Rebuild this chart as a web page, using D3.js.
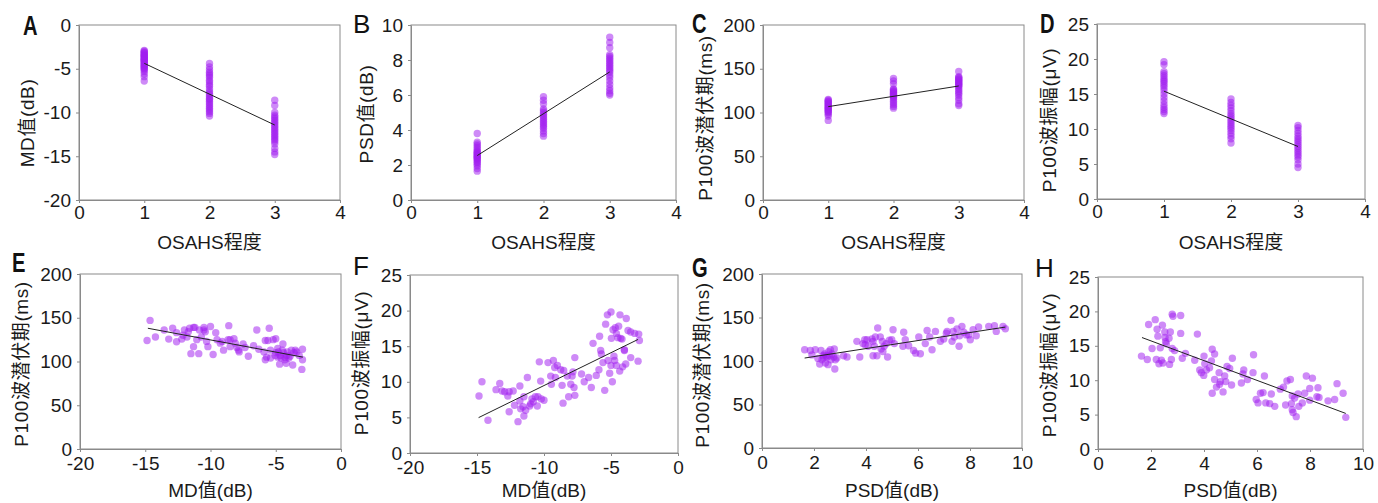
<!DOCTYPE html>
<html><head><meta charset="utf-8">
<script src="https://cdn.jsdelivr.net/npm/d3@7"></script>
<style>body{margin:0;background:#fff}svg{display:block}</style>
</head><body>
<svg id="chart" width="1378" height="503"></svg>
<script>
// ---------- DATA ----------
const grades = [1, 2, 3];
const gradeTicks = [0, 1, 2, 3, 4];

// A: MD by OSAHS grade
const mdG1 = [-2.9,-3.0,-3.1,-3.2,-3.3,-3.4,-3.5,-3.5,-3.6,-3.7,-3.8,-3.9,-4.0,-4.0,-4.1,-4.2,-4.3,-4.4,-4.5,-4.6,-4.7,-4.8,-4.9,-5.0,-5.1,-5.3,-5.6,-5.9,-6.4];
const mdG2 = [-4.4,-4.8,-5.1,-5.4,-5.6,-5.8,-6.0,-6.3,-6.5,-6.8,-7.0,-7.3,-7.6,-7.8,-8.0,-8.2,-8.4,-8.5,-8.7,-8.9,-9.1,-9.3,-9.5,-9.7,-9.9,-10.1,-10.4];
const mdG3 = [-8.6,-9.2,-10.0,-10.3,-10.5,-10.7,-10.9,-11.1,-11.3,-11.5,-11.7,-11.9,-12.1,-12.3,-12.5,-12.7,-12.9,-13.1,-13.3,-13.6,-14.1,-14.5,-14.8];
const mdFit = [[1,-4.38],[3,-11.43]];

// B: PSD by grade
const psdG1 = [1.65,1.8,1.95,2.05,2.15,2.2,2.3,2.35,2.4,2.45,2.5,2.55,2.6,2.65,2.7,2.75,2.8,2.9,3.0,3.1,3.2,3.3,3.8];
const psdG2 = [3.65,3.8,3.95,4.1,4.2,4.3,4.4,4.5,4.6,4.7,4.8,4.9,5.0,5.1,5.2,5.5,5.7,5.9];
const psdG3 = [6.0,6.1,6.25,6.4,6.6,6.8,7.0,7.15,7.3,7.4,7.5,7.6,7.7,7.8,7.9,8.0,8.1,8.2,8.3,8.7,9.0,9.3];
const psdFit = [[1,2.54],[3,7.32]];

// C: P100 latency by grade
const latG1 = [91,96,98,100,101,102,103,104,105,106,107,108,109,110,111,112,113,114,115];
const latG2 = [105,107,109,111,113,115,117,118,119,120,121,122,123,124,125,126,127,133,136,139];
const latG3 = [108,110,114,117,120,122,124,126,128,130,131,132,133,134,135,136,137,138,139,140,141,147];
const latFit = [[1,106.7],[3,130.3]];

// D: P100 amplitude by grade
const ampG1 = [12.2,12.5,12.8,13.1,13.5,14.0,14.5,15.0,15.5,15.9,16.2,16.5,16.8,17.0,17.3,17.6,17.9,18.2,19.2,19.6];
const ampG2 = [8.0,8.6,9.0,9.4,9.8,10.1,10.4,10.7,11.0,11.3,11.6,11.9,12.2,12.6,13.0,13.4,13.8,14.3];
const ampG3 = [4.5,5.0,5.6,6.0,6.3,6.6,6.9,7.2,7.5,7.8,8.1,8.4,8.7,9.0,9.4,9.8,10.2,10.5];
const ampFit = [[1,15.4],[3,7.5]];

// E: latency vs MD
const eMD  = [-14.86,-14.63,-14.22,-13.55,-13.2,-12.9,-12.6,-12.6,-12.2,-12.1,-12.0,-11.8,-11.7,-11.6,-11.5,-11.3,-11.2,-11.3,-11.05,-10.9,-10.85,-10.7,-10.5,-10.5,-10.4,-10.3,-10.2,-10.0,-9.8,-9.6,-9.5,-9.25,-9.1,-9.0,-8.6,-8.65,-8.5,-8.5,-8.2,-8.1,-7.98,-7.85,-7.8,-7.5,-7.35,-7.1,-6.7,-6.45,-6.3,-5.9,-5.8,-5.8,-5.7,-5.6,-5.5,-5.4,-5.2,-5.0,-5.0,-4.85,-4.8,-4.7,-4.65,-4.5,-4.45,-4.4,-4.3,-4.2,-4.1,-4.0,-3.9,-3.8,-3.7,-3.6,-3.5,-3.4,-3.2,-3.0,-2.95,-2.95,-4.6,-4.3,-4.85,-4.15,-5.05,-5.4];
const eLat = [124,147,128,136,125.6,138,133,122.5,125.6,130,136,128,134,138,109,139,139,117,125,109,136,128,139,136,134,123,117,140,108,133,125,121,123,113,141,125,117,125,126,121,116,113,111,120,116,106,118,136,114,111,124,102,105,124,138,113,125,126,110,115,111,97,107,113,120,110,105,98,111,104,106,113,96,110,113,111,107,91,114,102,104,102,105,107,107,104];
const eFit = [[-14.8,138],[-2.92,105]];

// F: amplitude vs MD
const fMD  = [-14.85,-14.63,-14.18,-13.58,-13.3,-13.13,-12.93,-12.7,-12.6,-12.6,-12.3,-12.2,-11.94,-11.8,-11.8,-11.74,-11.57,-11.5,-11.5,-11.37,-11.24,-11.07,-11.0,-10.9,-10.8,-10.65,-10.5,-10.45,-10.35,-10.25,-10.2,-10.0,-9.7,-9.5,-9.45,-9.3,-9.2,-9.15,-9.0,-8.75,-8.65,-8.58,-8.53,-8.26,-8.16,-8.0,-7.9,-7.84,-7.76,-7.7,-7.7,-7.2,-7.0,-6.67,-6.47,-6.34,-6.1,-5.9,-5.85,-5.77,-5.72,-5.6,-5.47,-5.4,-5.27,-5.22,-5.1,-5.0,-5.0,-4.97,-4.9,-4.85,-4.78,-4.73,-4.68,-4.6,-4.6,-4.48,-4.43,-4.35,-4.33,-4.28,-4.18,-4.13,-4.0,-4.0,-3.9,-3.86,-3.73,-3.53,-3.53,-3.23,-2.98,-2.93,-2.88];
const fAmp = [8.0,10.0,4.6,8.9,9.76,8.7,8.6,8.0,8.6,5.8,8.7,6.7,4.4,9.4,7.3,6.2,6.5,7.9,5.2,6.0,10.6,6.6,6.9,7.6,7.2,7.9,6.6,7.9,12.8,10.1,7.6,7.4,12.7,10.8,9.66,13.0,12.0,10.6,12.3,11.7,9.5,7.0,11.6,10.8,7.9,9.66,10.8,11.4,9.2,13.4,8.1,11.1,10.0,10.6,9.2,15.4,10.9,11.7,16.4,14.4,13.9,12.7,8.8,18.1,19.4,13.0,11.2,19.8,12.3,16.1,10.0,17.3,13.6,13.0,17.6,16.8,12.3,16.2,17.8,11.5,19.4,16.1,16.0,12.1,14.4,14.5,12.5,18.9,17.2,13.4,17.0,16.8,12.9,16.7,15.8];
const fFit = [[-14.88,4.97],[-2.98,15.95]];

// G: latency vs PSD
const gPSD = [1.64,1.86,1.92,2.05,2.15,2.22,2.27,2.31,2.35,2.41,2.44,2.47,2.5,2.54,2.56,2.6,2.65,2.69,2.76,2.78,2.8,2.82,2.88,3.14,3.27,3.65,3.76,3.88,3.95,3.97,4.04,4.08,4.23,4.27,4.27,4.32,4.36,4.42,4.45,4.55,4.58,4.63,4.65,4.7,4.78,4.83,4.9,4.99,5.04,5.09,5.42,5.45,5.51,5.64,5.83,5.91,6.03,6.09,6.28,6.35,6.45,6.54,6.67,6.86,6.99,7.09,7.12,7.27,7.31,7.35,7.4,7.5,7.58,7.6,7.69,7.76,7.86,7.95,8.01,8.12,8.24,8.33,8.72,8.94,9.01,9.27,9.36,2.37,2.63];
const gLat = [113,112,107,113,103,96.6,112,101.5,106,108,97.7,106,104.6,95.8,110.7,106,101.5,108,104.6,113.8,90.8,101.5,103.4,106,104.6,122.6,104.6,120,124.5,118.8,124.5,116.9,125.3,106,122.6,116.9,127.6,106,138,127.6,113.8,122.6,111,116.9,120,104.6,123.8,124.5,136,120,116.9,133,124.5,117.6,112,109,127.6,108.4,120,135,127.6,113,134,122.6,125.3,132,134,146.7,122.6,134,127.6,136.8,116.9,129,139.8,133,130,130,124.5,136,129,139,139.8,140.6,134,139.8,137,103.4,113];
const gFit = [[1.64,103.4],[9.36,139]];

// H: amplitude vs PSD
const hPSD = [1.64,1.86,1.91,2.04,2.16,2.2,2.23,2.26,2.3,2.35,2.39,2.43,2.45,2.52,2.53,2.55,2.58,2.68,2.7,2.73,2.77,2.8,2.8,2.83,2.89,3.12,3.12,3.18,3.3,3.65,3.75,3.84,3.9,3.99,4.0,4.03,4.09,4.21,4.28,4.31,4.31,4.4,4.4,4.47,4.57,4.59,4.62,4.72,4.78,4.82,4.87,4.97,5.04,5.07,5.41,5.47,5.5,5.64,5.85,5.87,5.97,6.04,6.13,6.23,6.28,6.33,6.48,6.54,6.67,6.88,7.0,7.08,7.13,7.26,7.3,7.33,7.33,7.36,7.42,7.48,7.55,7.58,7.71,7.8,7.86,7.99,8.09,7.99,8.26,8.3,8.34,8.68,8.93,9.02,9.25,9.35];
const hAmp = [13.5,13.0,18.1,14.6,18.8,13.0,17.4,16.4,12.4,14.7,12.9,18.0,12.5,17.0,16.2,15.6,15.3,16.1,12.3,17.0,13.0,14.6,19.6,19.3,14.3,19.4,16.8,13.2,13.9,12.9,16.7,11.5,11.1,10.7,13.5,12.4,11.5,11.8,12.8,8.1,14.5,13.8,10.1,9.0,11.1,9.4,9.8,8.3,10.6,9.8,12.0,11.7,9.3,13.2,9.6,10.9,11.5,10.1,11.1,13.7,7.2,6.7,8.1,8.2,10.6,6.7,6.6,8.0,6.2,8.7,9.0,6.4,9.9,10.1,6.6,7.7,5.7,5.3,7.4,4.7,8.0,6.2,6.7,8.1,10.6,7.1,10.3,8.8,7.6,8.9,7.5,7.0,7.2,9.5,8.1,4.6];
const hFit = [[1.66,16.2],[9.35,5.17]];

// ---------- LAYOUT ----------
const zip = (xs, ys) => xs.map((x, i) => [x, ys[i]]);
const grp = (g1, g2, g3) => [g1, g2, g3].flatMap((g, i) => g.map(v => [grades[i], v]));

const panels = [
  {id:'A', bold:true,  lx:23,  ly:35,  l:79,  r:340,  t:25,  b:200, xpad:3, xly:249, xd:[0,4],   xt:gradeTicks, yd:[-20,0], yt:[-20,-15,-10,-5,0], xlab:'OSAHS程度', ylab:'MD值(dB)', ylx:28, ylc:123, pts:grp(mdG1,mdG2,mdG3), fit:mdFit},
  {id:'B', bold:false, lx:353, ly:33,  l:411, r:676,  t:25,  b:200, xpad:3, xly:249, xd:[0,4],   xt:gradeTicks, yd:[0,10],  yt:[0,2,4,6,8,10], xlab:'OSAHS程度', ylab:'PSD值(dB)', ylx:367, ylc:114, pts:grp(psdG1,psdG2,psdG3), fit:psdFit},
  {id:'C', bold:true,  lx:692, ly:33,  l:763, r:1024, t:25,  b:200, xpad:3, xly:249, xd:[0,4],   xt:gradeTicks, yd:[0,200], yt:[0,50,100,150,200], xlab:'OSAHS程度', ylab:'P100波潜伏期(ms)', ylx:706, ylc:118, pts:grp(latG1,latG2,latG3), fit:latFit},
  {id:'D', bold:true,  lx:1040,ly:33,  l:1097,r:1365, t:24,  b:199, xpad:3, xly:249, xd:[0,4],   xt:gradeTicks, yd:[0,25],  yt:[0,5,10,15,20,25], xlab:'OSAHS程度', ylab:'P100波振幅(μV)', ylx:1050, ylc:120, pts:grp(ampG1,ampG2,ampG3), fit:ampFit},
  {id:'E', bold:true,  lx:12,  ly:272, l:80,  r:341,  t:274, b:449, xpad:5, xly:497, xd:[-20,0], xt:[-20,-15,-10,-5,0], yd:[0,200], yt:[0,50,100,150,200], xlab:'MD值(dB)', ylab:'P100波潜伏期(ms)', ylx:22, ylc:364, pts:zip(eMD,eLat), fit:eFit},
  {id:'F', bold:false, lx:353, ly:275, l:410, r:678,  t:275, b:453, xpad:5, xly:497, xd:[-20,0], xt:[-20,-15,-10,-5,0], yd:[0,25], yt:[0,5,10,15,20,25], xlab:'MD值(dB)', ylab:'P100波振幅(μV)', ylx:362, ylc:363, pts:zip(fMD,fAmp), fit:fFit},
  {id:'G', bold:true,  lx:692, ly:277, l:762, r:1022, t:274, b:448, xpad:5, xly:497, xd:[0,10],  xt:[0,2,4,6,8,10], yd:[0,200], yt:[0,50,100,150,200], xlab:'PSD值(dB)', ylab:'P100波潜伏期(ms)', ylx:703, ylc:365, pts:zip(gPSD,gLat), fit:gFit},
  {id:'H', bold:false, lx:1035,ly:277, l:1098,r:1363, t:277, b:449, xpad:5, xly:497, xd:[0,10],  xt:[0,2,4,6,8,10], yd:[0,25], yt:[0,5,10,15,20,25], xlab:'PSD值(dB)', ylab:'P100波振幅(μV)', ylx:1050, ylc:365, pts:zip(hPSD,hAmp), fit:hFit}
];

const FONT = '"Liberation Sans", Arial, "Noto Sans CJK SC", sans-serif';
const svg = d3.select('#chart');
const axisGray = '#8a8a8a';

panels.forEach(p => {
  const x = d3.scaleLinear().domain(p.xd).range([p.l, p.r]);
  const y = d3.scaleLinear().domain(p.yd).range([p.b, p.t]);
  const g = svg.append('g');

  // frame
  g.append('rect').attr('x', p.l).attr('y', p.t).attr('width', p.r - p.l).attr('height', p.b - p.t)
    .attr('fill', 'none').attr('stroke', axisGray).attr('stroke-width', 1);

  const xa = g.append('g').attr('transform', `translate(0,${p.b})`)
    .call(d3.axisBottom(x).tickValues(p.xt).tickFormat(d3.format('d')).tickSizeInner(3).tickSizeOuter(0).tickPadding(p.xpad));
  const ya = g.append('g').attr('transform', `translate(${p.l},0)`)
    .call(d3.axisLeft(y).tickValues(p.yt).tickFormat(d3.format('d')).tickSizeInner(3).tickSizeOuter(0).tickPadding(5));
  [xa, ya].forEach(a => {
    a.attr('font-family', FONT).attr('font-size', 19);
    a.selectAll('path,line').attr('stroke', axisGray);
    a.selectAll('text').attr('fill', '#1a1a1a');
  });
  ya.selectAll('text').text(d => d < 0 ? '-' + Math.abs(d) : d);
  xa.selectAll('text').text(d => d < 0 ? '-' + Math.abs(d) : d);

  // points
  g.append('g').selectAll('circle').data(p.pts).join('circle')
    .attr('cx', d => x(d[0])).attr('cy', d => y(d[1])).attr('r', 3.7)
    .attr('fill', '#a21ff0').attr('fill-opacity', 0.52);

  // fit line
  g.append('path').datum(p.fit)
    .attr('d', d3.line().x(d => x(d[0])).y(d => y(d[1])))
    .attr('stroke', '#222').attr('stroke-width', 1).attr('fill', 'none');

  // titles
  g.append('text').attr('x', (p.l + p.r) / 2).attr('y', p.xly)
    .attr('text-anchor', 'middle').attr('font-family', FONT).attr('font-size', 19).attr('fill', '#1a1a1a')
    .text(p.xlab);
  g.append('text').attr('transform', `translate(${p.ylx + 6},${p.ylc}) rotate(-90)`)
    .attr('text-anchor', 'middle').attr('font-family', FONT).attr('font-size', 19).attr('fill', '#1a1a1a')
    .attr('letter-spacing', 0.6)
    .text(p.ylab);

  // panel letter
  if (p.bold) {
    g.append('text').attr('transform', `translate(${p.lx},${p.ly}) scale(0.72,1)`)
      .attr('font-family', FONT).attr('font-weight', 'bold')
      .attr('font-size', 28).attr('fill', '#111').text(p.id);
  } else {
    g.append('text').attr('x', p.lx).attr('y', p.ly)
      .attr('font-family', FONT).attr('font-size', 26).attr('fill', '#111').text(p.id);
  }
});
</script>
</body></html>
